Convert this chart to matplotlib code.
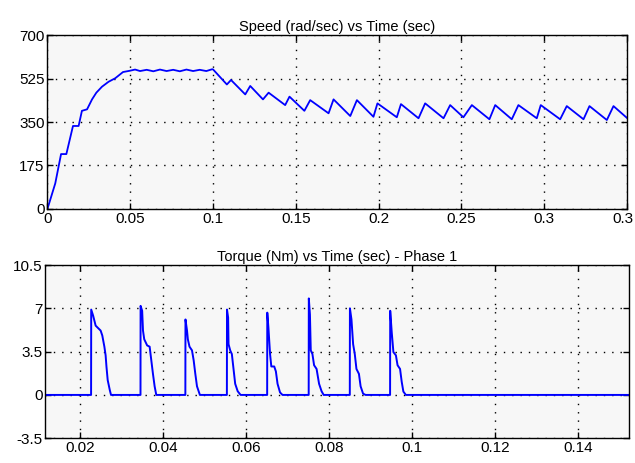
import matplotlib
matplotlib.use('Agg')
import matplotlib.pyplot as plt
import matplotlib.transforms as mtransforms

# speed of the rotor, rad/sec
speed_t = [0.0, 0.0008, 0.0048, 0.0083, 0.0115, 0.0155, 0.0189, 0.0209, 0.0240,
           0.0270, 0.0296, 0.0330, 0.0370, 0.0410, 0.0457, 0.0497,
           0.0530, 0.0560, 0.0600, 0.0640, 0.0680, 0.0720, 0.0760, 0.0800,
           0.0840, 0.0880, 0.0920, 0.0960, 0.0994,
           0.1000, 0.1084, 0.1109, 0.1195, 0.1225, 0.1302, 0.1336, 0.1436,
           0.1462, 0.1552, 0.1587, 0.1698, 0.1728, 0.1829, 0.1869, 0.1969,
           0.1993, 0.2110, 0.2135, 0.2241, 0.2281, 0.2392, 0.2432, 0.2512,
           0.2563, 0.2669, 0.2704, 0.2804, 0.2844, 0.2955, 0.2979, 0.3096,
           0.3136, 0.3237, 0.3273, 0.3378, 0.3418, 0.3500]
speed_w = [0, 16, 103, 221, 221, 334, 334, 395, 401,
           441, 468, 492, 512, 526, 551, 556,
           561, 555, 560, 554, 561, 555, 560, 554,
           561, 555, 560, 555, 562,
           562, 501, 519, 461, 495, 441, 468, 418,
           452, 395, 438, 385, 441, 374, 438, 371,
           425, 369, 422, 365, 425, 365, 418, 369,
           418, 361, 418, 361, 418, 365, 418, 361,
           414, 361, 414, 358, 414, 366]

# phase 1 torque, Nm
torque_t = [0.0117, 0.0227, 0.02273, 0.0232, 0.0238, 0.0250, 0.0254, 0.0259,
            0.0262, 0.0264, 0.0267, 0.0272, 0.0275,
            0.0346, 0.03462, 0.0350, 0.0352, 0.0355, 0.0362, 0.0368, 0.0372,
            0.0376, 0.0380, 0.0384,
            0.0454, 0.04543, 0.0458, 0.0460, 0.0464, 0.0470, 0.0474, 0.0478,
            0.0482, 0.0489,
            0.0554, 0.05543, 0.0557, 0.0558, 0.0562, 0.0566, 0.0570, 0.0574,
            0.0580, 0.0587,
            0.0651, 0.06513, 0.0654, 0.0658, 0.0661, 0.0668, 0.0672, 0.0676,
            0.0682, 0.0688,
            0.0751, 0.07513, 0.0754, 0.0756, 0.0760, 0.0764, 0.0770, 0.0776,
            0.0782, 0.0787,
            0.0850, 0.08503, 0.0854, 0.0858, 0.0862, 0.0866, 0.0872, 0.0876,
            0.0882, 0.0888,
            0.0947, 0.09473, 0.0951, 0.0955, 0.0961, 0.0965, 0.0971, 0.0975,
            0.0979, 0.0985, 0.1523]
torque_v = [0, 0, 6.9, 6.4, 5.6, 5.2, 4.8, 3.9,
            3.2, 2.3, 1.2, 0.4, 0,
            0, 7.2, 6.8, 5.2, 4.5, 4.0, 3.9, 2.8,
            1.7, 0.7, 0,
            0, 6.1, 5.2, 4.5, 3.9, 3.6, 2.8, 1.7,
            0.7, 0,
            0, 6.9, 6.25, 4.1, 3.6, 3.3, 2.1, 0.9,
            0.3, 0,
            0, 6.65, 5.45, 3.3, 2.3, 2.3, 1.9, 0.9,
            0.2, 0,
            0, 7.8, 6.5, 3.6, 3.3, 2.4, 2.1, 0.9,
            0.3, 0,
            0, 7.0, 6.1, 4.1, 3.3, 2.1, 1.7, 0.7,
            0.1, 0,
            0, 6.8, 5.05, 3.46, 3.2, 2.4, 2.1, 1.06,
            0.27, 0, 0]

speed_xticks = [0, 0.05, 0.1, 0.15, 0.2, 0.25, 0.3, 0.35]
speed_xlabels = ['0', '0.05', '0.1', '0.15', '0.2', '0.25', '0.3', '0.3']
speed_yticks = [0, 175, 350, 525, 700]
torque_xticks = [0.02, 0.04, 0.06, 0.08, 0.1, 0.12, 0.14]
torque_xlabels = ['0.02', '0.04', '0.06', '0.08', '0.1', '0.12', '0.14']
torque_yticks = [-3.5, 0, 3.5, 7, 10.5]
torque_ylabels = ['-3.5', '0', '3.5', '7', '10.5']

plt.rcParams['font.family'] = ['Liberation Sans', 'DejaVu Sans']
plt.rcParams['font.size'] = 10.5

fig = plt.figure(figsize=(6.35, 4.63), dpi=100)
fig.patch.set_facecolor('white')
ax1 = fig.add_axes([0.0745, 0.5486, 0.9130, 0.3758])
ax2 = fig.add_axes([0.0715, 0.0535, 0.9195, 0.3741])


def style(ax):
    ax.set_facecolor('#f7f7f7')
    ax.grid(True, color='black', linestyle=(0, (1, 5)), linewidth=1.0)
    ax.tick_params(direction='in', length=4, width=1, top=True, right=True,
                   pad=2, labelsize=11)
    for sp in ax.spines.values():
        sp.set_linewidth(1.0)


ax1.plot(speed_t, speed_w, color='#0000ff', linewidth=1.3)
ax1.set_xlim(0, 0.35)
ax1.set_ylim(0, 700)
ax1.set_xticks(speed_xticks)
ax1.set_xticklabels(speed_xlabels)
ax1.set_yticks(speed_yticks)
ax1.set_title('Speed (rad/sec) vs Time (sec)', fontsize=10.5, pad=3)
style(ax1)

# last label sits on the figure edge, nudge it inside
last = ax1.get_xticklabels()[-1]
last.set_transform(last.get_transform() +
                   mtransforms.ScaledTranslation(-3 / 72, 0, fig.dpi_scale_trans))

ax2.plot(torque_t, torque_v, color='#0000ff', linewidth=1.4)
ax2.set_xlim(0.0117, 0.1523)
ax2.set_ylim(-3.5, 10.5)
ax2.set_xticks(torque_xticks)
ax2.set_xticklabels(torque_xlabels)
ax2.set_yticks(torque_yticks)
ax2.set_yticklabels(torque_ylabels)
ax2.set_title('Torque (Nm) vs Time (sec) - Phase 1', fontsize=10.5, pad=3)
style(ax2)

fig.savefig('out.png', dpi=100)
